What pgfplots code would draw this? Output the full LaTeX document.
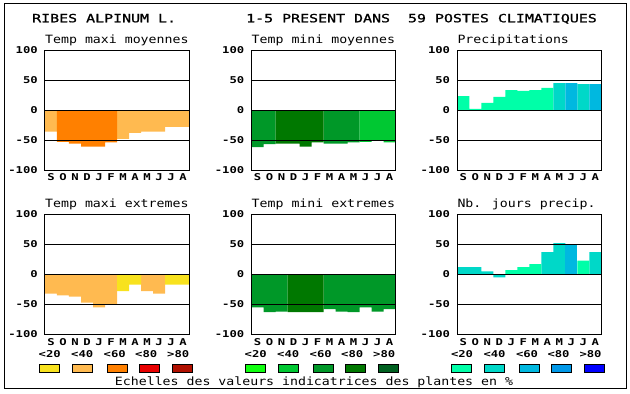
\documentclass[border=0pt]{standalone}
\usepackage{fontspec}
\usepackage{pgfplots}
\pgfplotsset{compat=1.18}
\newfontfamily\tickfont[FakeStretch=1.3]{DejaVu Sans Mono}
\newfontfamily\txtfont[FakeStretch=1.16]{DejaVu Sans Mono}
\newfontfamily\ttlfont[FakeStretch=1.31,FakeBold=1.2]{DejaVu Sans Mono}
\definecolor{y20}{RGB}{248,226,30}
\definecolor{o40}{RGB}{255,186,80}
\definecolor{o60}{RGB}{255,128,0}
\definecolor{r80}{RGB}{232,0,0}
\definecolor{r100}{RGB}{176,16,0}
\definecolor{g20}{RGB}{16,255,16}
\definecolor{g40}{RGB}{0,200,50}
\definecolor{g60}{RGB}{0,152,40}
\definecolor{g80}{RGB}{0,120,0}
\definecolor{g100}{RGB}{0,96,32}
\definecolor{b20}{RGB}{0,255,168}
\definecolor{b40}{RGB}{0,216,200}
\definecolor{b60}{RGB}{0,184,224}
\definecolor{b80}{RGB}{0,152,232}
\definecolor{b100}{RGB}{0,0,255}
\pgfplotsset{
  panel/.style={
    scale only axis, width=144pt, height=120pt, anchor=south west,
    xmin=0, xmax=12, ymin=-100, ymax=100, axis on top,
    ytick={-100,-50,0,50,100}, yticklabels={-100,-50,0,50,100},
    xtick={0.5,1.5,...,11.5}, xticklabels={S,O,N,D,J,F,M,A,M,J,J,A},
    major tick length=0pt, ymajorgrids,
    grid style={black, line width=1pt},
    axis line style={line width=1pt},
    tick label style={font=\tickfont\bfseries\fontsize{9.4}{10}\selectfont, inner sep=0pt},
    yticklabel style={anchor=east, xshift=-7pt},
    xticklabel style={anchor=base, yshift=-10.7pt},
  },
  bars/.style={ybar, bar width=1, bar shift=0pt, draw=none, fill=#1},
}
\begin{document}
\begin{tikzpicture}
\useasboundingbox (0pt,0pt) rectangle (630pt,-394pt);
\draw[line width=1pt] (4pt,-3pt) rectangle (626.5pt,-388.5pt);
% titles
\node[anchor=base west, inner sep=0pt] at (32pt,-22.3pt) {\ttlfont\fontsize{11.4}{12}\selectfont RIBES ALPINUM L.};
\node[anchor=base west, inner sep=0pt] at (246pt,-22.3pt) {\ttlfont\fontsize{11.4}{12}\selectfont 1-5 PRESENT DANS\ \ 59 POSTES CLIMATIQUES};
\node[anchor=base west, inner sep=0pt] at (45pt,-43.3pt) {\txtfont\fontsize{11.4}{12}\selectfont Temp maxi moyennes};
\node[anchor=base west, inner sep=0pt] at (251.5pt,-43.3pt) {\txtfont\fontsize{11.4}{12}\selectfont Temp mini moyennes};
\node[anchor=base west, inner sep=0pt] at (457.3pt,-43.3pt) {\txtfont\fontsize{11.4}{12}\selectfont Precipitations};
\node[anchor=base west, inner sep=0pt] at (45pt,-207.6pt) {\txtfont\fontsize{11.4}{12}\selectfont Temp maxi extremes};
\node[anchor=base west, inner sep=0pt] at (251.5pt,-207.6pt) {\txtfont\fontsize{11.4}{12}\selectfont Temp mini extremes};
\node[anchor=base west, inner sep=0pt] at (457.3pt,-207.6pt) {\txtfont\fontsize{11.4}{12}\selectfont Nb. jours precip.};

% Panel 1: Temp maxi moyennes
\begin{axis}[panel, at={(45pt,-170pt)}]
\addplot[bars=o40] coordinates {(0.5,-36) (6.5,-48) (7.5,-38) (8.5,-36) (9.5,-36) (10.5,-28) (11.5,-28)};
\addplot[bars=o60] coordinates {(1.5,-53) (2.5,-56) (3.5,-61) (4.5,-61) (5.5,-54)};
\end{axis}
% Panel 2: Temp mini moyennes
\begin{axis}[panel, at={(251.5pt,-170pt)}]
\addplot[bars=g60] coordinates {(0.5,-62) (1.5,-57) (6.5,-56) (7.5,-56) (8.5,-54)};
\addplot[bars=g80] coordinates {(2.5,-56) (3.5,-56) (4.5,-61) (5.5,-54)};
\addplot[bars=g40] coordinates {(9.5,-53) (10.5,-51) (11.5,-54)};
\end{axis}
% Panel 3: Precipitations
\begin{axis}[panel, at={(457.3pt,-170pt)}]
\addplot[bars=b20] coordinates {(0.5,23) (1.5,2) (2.5,12) (3.5,22) (4.5,33) (5.5,32) (6.5,33) (7.5,37)};
\addplot[bars=b40] coordinates {(8.5,45) (10.5,43)};
\addplot[bars=b60] coordinates {(9.5,45) (11.5,43)};
\end{axis}
% Panel 4: Temp maxi extremes
\begin{axis}[panel, at={(45pt,-334.3pt)}]
\addplot[bars=o40] coordinates {(0.5,-32) (1.5,-35) (2.5,-37) (3.5,-47) (4.5,-55) (5.5,-50) (8.5,-28) (9.5,-32)};
\addplot[bars=y20] coordinates {(6.5,-28) (7.5,-17) (10.5,-17) (11.5,-17)};
\end{axis}
% Panel 5: Temp mini extremes
\begin{axis}[panel, at={(251.5pt,-334.3pt)}]
\addplot[bars=g60] coordinates {(0.5,-55) (1.5,-63) (2.5,-62) (6.5,-58) (7.5,-62) (8.5,-63) (9.5,-55) (10.5,-62) (11.5,-58)};
\addplot[bars=g80] coordinates {(3.5,-63) (4.5,-63) (5.5,-63)};
\end{axis}
% Panel 6: Nb. jours precip.
\begin{axis}[panel, at={(457.3pt,-334.3pt)}]
\addplot[bars=b40] coordinates {(0.5,12) (1.5,12) (2.5,5) (3.5,-5) (7.5,37) (8.5,52) (11.5,37)};
\addplot[bars=b20] coordinates {(4.5,7) (5.5,12) (6.5,17) (10.5,23)};
\addplot[bars=b60] coordinates {(9.5,49)};
\end{axis}

% legend scales
\foreach \g in {0, 206, 412.3} {
  \foreach \lab/\lx in {<20/38.5,<40/71,<60/103.5,<80/135,>80/167} {
    \node[anchor=base west, inner sep=0pt] at ({(\lx+\g)*1pt},-357.2pt) {\tickfont\bfseries\fontsize{9.4}{10}\selectfont \lab};
  }
}
\foreach \g/\ca/\cb/\cc/\cd/\ce in {0/y20/o40/o60/r80/r100, 206/g20/g40/g60/g80/g100, 412.3/b20/b40/b60/b80/b100} {
  \filldraw[draw=black, line width=1pt, fill=\ca] ({(39.5+\g)*1pt},-364.8pt) rectangle ({(59.5+\g)*1pt},-372.8pt);
  \filldraw[draw=black, line width=1pt, fill=\cb] ({(72+\g)*1pt},-364.8pt) rectangle ({(92+\g)*1pt},-372.8pt);
  \filldraw[draw=black, line width=1pt, fill=\cc] ({(107.5+\g)*1pt},-364.8pt) rectangle ({(127.5+\g)*1pt},-372.8pt);
  \filldraw[draw=black, line width=1pt, fill=\cd] ({(139.5+\g)*1pt},-364.8pt) rectangle ({(159.5+\g)*1pt},-372.8pt);
  \filldraw[draw=black, line width=1pt, fill=\ce] ({(172+\g)*1pt},-364.8pt) rectangle ({(192+\g)*1pt},-372.8pt);
}
\node[anchor=base, inner sep=0pt] at (314pt,-385.7pt) {\txtfont\fontsize{11.4}{12}\selectfont Echelles des valeurs indicatrices des plantes en \%};
\end{tikzpicture}
\end{document}
